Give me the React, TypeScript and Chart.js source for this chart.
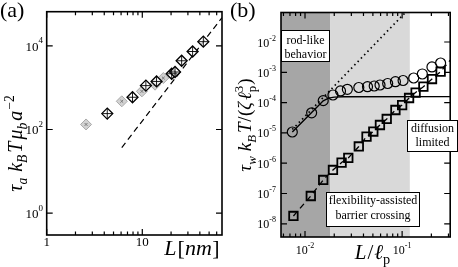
import React, { useEffect, useRef } from 'react';
import { Chart, registerables } from 'chart.js';

Chart.register(...registerables);

const SERIF = "'Liberation Serif', 'DejaVu Serif', serif";

// ---------- Panel (a) data ----------
const aBlackL = [4.3, 7.9, 10.9, 14.1, 20.3, 22.0, 25.8, 33.6, 43.5];
const aBlackTau = [240, 590, 1120, 1410, 2150, 2370, 4400, 7330, 12600];
const aGreyL = [2.58, 6.1, 9.9, 13.6, 16.6];
const aGreyTau = [132, 472, 816, 1180, 1700];
const aScalingL = [6.1, 68];
const aScalingTau = [37, 47000];
const aXMajor = [1, 10];
const aXMinor = [2, 3, 4, 5, 6, 7, 8, 9, 20, 30, 40, 50, 60];
const aXLabels = ['1', '10'];
const aYMajor = [1, 100, 10000];
const aYExponents = ['0', '2', '4'];

// ---------- Panel (b) data ----------
const bCircleL = [0.0074, 0.0117, 0.0154, 0.0194, 0.0232, 0.0273, 0.0358, 0.044, 0.0516, 0.0592, 0.071, 0.0853, 0.1023, 0.1315, 0.1615, 0.2028, 0.249];
const bCircleTau = [1.07e-5, 4.6e-5, 1.16e-4, 1.78e-4, 2.42e-4, 2.75e-4, 3.15e-4, 3.35e-4, 3.53e-4, 3.81e-4, 4.27e-4, 4.9e-4, 5.36e-4, 6.48e-4, 8.8e-4, 1.5e-3, 2.03e-3];
const bSquareL = [0.0076, 0.01147, 0.0154, 0.0194, 0.0238, 0.0279, 0.0358, 0.043, 0.0505, 0.0591, 0.0694, 0.0853, 0.1, 0.1179, 0.1376, 0.1655, 0.2031, 0.2492];
const bSquareTau = [1.81e-8, 8.26e-8, 2.79e-7, 5.97e-7, 1.05e-6, 1.49e-6, 3.56e-6, 7.5e-6, 1.11e-5, 1.82e-5, 2.88e-5, 5.7e-5, 8.3e-5, 1.42e-4, 2.15e-4, 3.35e-4, 6.0e-4, 1.05e-3];
const bFlexLineL = [0.0076, 0.01147, 0.0154, 0.0194, 0.0238, 0.0279, 0.0358, 0.043, 0.0505, 0.0591, 0.0694, 0.0853, 0.1, 0.1179, 0.1376, 0.1655, 0.2031, 0.2492, 0.3126];
const bFlexLineTau = [1.81e-8, 8.26e-8, 2.79e-7, 5.97e-7, 1.05e-6, 1.49e-6, 3.56e-6, 7.5e-6, 1.11e-5, 1.82e-5, 2.88e-5, 5.7e-5, 8.3e-5, 1.42e-4, 2.15e-4, 3.35e-4, 6.0e-4, 1.05e-3, 2.5e-3];
const bRodCurveL = [0.0074, 0.0117, 0.0154, 0.0175, 0.02, 0.025, 0.32];
const bRodCurveTau = [1.07e-5, 4.7e-5, 1.15e-4, 1.4e-4, 1.52e-4, 1.56e-4, 1.57e-4];
const bRodLineL = [0.0074, 0.11];
const bRodLineTau = [1.3e-5, 0.1];
const bRodLimit = 0.0181;
const bDiffusionLimit = 0.12;
const bXMajor = [0.01, 0.1];
const bXMinor = [0.006, 0.007, 0.008, 0.009, 0.02, 0.03, 0.04, 0.05, 0.06, 0.07, 0.08, 0.09, 0.2, 0.3];
const bYMajor = [1e-8, 1e-7, 1e-6, 1e-5, 1e-4, 1e-3, 1e-2];
const bXExponents = ['-2', '-1'];
const bYExponents = ['-8', '-7', '-6', '-5', '-4', '-3', '-2'];

type Seg = { t: string; it?: boolean; pos?: 'sub' | 'sup'; gap?: number; stack?: boolean };

function drawRich(ctx: CanvasRenderingContext2D, segs: Seg[], x: number, y: number, size: number, align: 'left' | 'center' | 'right') {
  const fontFor = (s: Seg) => `${s.it ? 'italic ' : ''}${s.pos ? size * 0.68 : size}px ${SERIF}`;
  const widths = segs.map((s) => { ctx.font = fontFor(s); return ctx.measureText(s.t).width; });
  let total = 0;
  let prevStart = 0;
  let prevW = 0;
  segs.forEach((s, i) => {
    if (s.stack) {
      const w = Math.max(prevW, widths[i]);
      total = prevStart + w;
      prevW = w;
    } else {
      prevStart = total + (s.gap || 0);
      total = prevStart + widths[i];
      prevW = widths[i];
    }
  });
  const start = align === 'left' ? x : align === 'center' ? x - total / 2 : x - total;
  let cx = start;
  let segStart = start;
  segs.forEach((s, i) => {
    let drawX;
    if (s.stack) {
      drawX = segStart;
      cx = Math.max(cx, segStart + widths[i]);
    } else {
      cx += s.gap || 0;
      drawX = cx;
      segStart = cx;
      cx += widths[i];
    }
    ctx.font = fontFor(s);
    const dy = s.pos === 'sub' ? size * 0.24 : s.pos === 'sup' ? -size * 0.42 : 0;
    ctx.fillText(s.t, drawX, y + dy);
  });
}

function drawPow(ctx: CanvasRenderingContext2D, exp: string, x: number, yBase: number, base: number, sup: number, supRaise: number, align: 'center' | 'right') {
  ctx.font = `${base}px ${SERIF}`;
  const w1 = ctx.measureText('10').width;
  ctx.font = `${sup}px ${SERIF}`;
  const w2 = ctx.measureText(exp).width;
  const total = w1 + w2;
  const left = align === 'center' ? x - total / 2 : x - total;
  ctx.font = `${base}px ${SERIF}`;
  ctx.fillText('10', left, yBase);
  ctx.font = `${sup}px ${SERIF}`;
  ctx.fillText(exp, left + w1, yBase - supRaise);
}

function drawFrame(chart: any, xMajor: number[], xMinor: number[], yMajor: number[], yMinor: number[]) {
  const { ctx, chartArea: a, scales } = chart;
  const xs = scales.x;
  const ys = scales.y;
  ctx.save();
  ctx.strokeStyle = '#000';
  ctx.lineWidth = 1.2;
  ctx.beginPath();
  const vt = (v: number, len: number) => {
    const px = xs.getPixelForValue(v);
    ctx.moveTo(px, a.bottom); ctx.lineTo(px, a.bottom - len);
    ctx.moveTo(px, a.top); ctx.lineTo(px, a.top + len);
  };
  const ht = (v: number, len: number) => {
    const py = ys.getPixelForValue(v);
    ctx.moveTo(a.left, py); ctx.lineTo(a.left + len, py);
    ctx.moveTo(a.right, py); ctx.lineTo(a.right - len, py);
  };
  xMajor.forEach((v) => vt(v, 6));
  xMinor.forEach((v) => vt(v, 3.5));
  yMajor.forEach((v) => ht(v, 6));
  yMinor.forEach((v) => ht(v, 3.5));
  ctx.stroke();
  ctx.lineWidth = 1.6;
  ctx.strokeRect(a.left, a.top, a.right - a.left, a.bottom - a.top);
  ctx.restore();
}

function pts(xs: number[], ys: number[]) {
  return xs.map((x, i) => ({ x, y: ys[i] }));
}

function logScale(min: number, max: number, fit: (s: any) => void) {
  return {
    type: 'logarithmic' as const,
    min,
    max,
    display: true,
    ticks: { display: false },
    grid: { display: false, drawTicks: false },
    border: { display: false },
    afterFit: fit,
  };
}

const panelAPlugin = {
  id: 'panelA',
  afterDraw(chart: any) {
    const { ctx, scales } = chart;
    drawFrame(chart, aXMajor, aXMinor, aYMajor, []);
    ctx.save();
    ctx.fillStyle = '#000';
    ctx.textBaseline = 'alphabetic';
    ctx.font = `13px ${SERIF}`;
    ctx.textAlign = 'center';
    aXMajor.forEach((v, i) => ctx.fillText(aXLabels[i], scales.x.getPixelForValue(v), 246));
    ctx.textAlign = 'left';
    aYMajor.forEach((v, i) => {
      const py = scales.y.getPixelForValue(v);
      drawPow(ctx, aYExponents[i], 43, py + 5, 13, 9, 7.5, 'right');
    });
    ctx.font = `22px ${SERIF}`;
    ctx.fillText('(a)', 0, 17);
    drawRich(ctx, [
      { t: 'L', it: true },
      { t: '[', gap: 1 },
      { t: 'nm', it: true },
      { t: ']', gap: 0.5 },
    ], 192, 255, 22, 'center');
    ctx.translate(22, 143.5);
    ctx.rotate(-Math.PI / 2);
    drawRich(ctx, [
      { t: 'τ', it: true },
      { t: 'a', it: true, pos: 'sub' },
      { t: 'k', it: true, gap: 6 },
      { t: 'B', it: true, pos: 'sub' },
      { t: 'T', it: true, gap: 2 },
      { t: 'μ', it: true, gap: 2 },
      { t: 'b', it: true, pos: 'sub' },
      { t: 'a', it: true, gap: 2 },
      { t: '−2', pos: 'sup', gap: 1 },
    ], 0, 0, 20, 'center');
    ctx.restore();
  },
};

function drawBox(ctx: CanvasRenderingContext2D, x0: number, y0: number, x1: number, y1: number, lines: string[], baselines: number[]) {
  ctx.save();
  ctx.fillStyle = '#fff';
  ctx.fillRect(x0, y0, x1 - x0, y1 - y0);
  ctx.strokeStyle = '#000';
  ctx.lineWidth = 1;
  ctx.strokeRect(x0 + 0.5, y0 + 0.5, x1 - x0 - 1, y1 - y0 - 1);
  ctx.fillStyle = '#000';
  ctx.font = `12px ${SERIF}`;
  ctx.textAlign = 'center';
  ctx.textBaseline = 'alphabetic';
  lines.forEach((l, i) => ctx.fillText(l, (x0 + x1) / 2, baselines[i]));
  ctx.restore();
}

const panelBPlugin = {
  id: 'panelB',
  beforeDatasetsDraw(chart: any) {
    const { ctx, chartArea: a, scales } = chart;
    const xr = scales.x.getPixelForValue(bRodLimit);
    const xd = scales.x.getPixelForValue(bDiffusionLimit);
    ctx.save();
    ctx.fillStyle = '#a6a6a6';
    ctx.fillRect(a.left, a.top, xr - a.left, a.bottom - a.top);
    ctx.fillStyle = '#d9d9d9';
    ctx.fillRect(xr, a.top, xd - xr, a.bottom - a.top);
    ctx.restore();
  },
  afterDraw(chart: any) {
    const { ctx, scales } = chart;
    drawFrame(chart, bXMajor, bXMinor, bYMajor, []);
    drawBox(ctx, 52, 30, 101, 62, ['rod-like', 'behavior'], [44, 58]);
    drawBox(ctx, 178, 120, 229, 152, ['diffusion', 'limited'], [132, 146]);
    drawBox(ctx, 97, 192, 191, 227, ['flexibility-assisted', 'barrier crossing'], [204, 219]);
    ctx.save();
    ctx.fillStyle = '#000';
    ctx.textBaseline = 'alphabetic';
    ctx.textAlign = 'left';
    bXMajor.forEach((v, i) => {
      drawPow(ctx, bXExponents[i], scales.x.getPixelForValue(v), 253.5, 12, 8, 6, 'center');
    });
    bYMajor.forEach((v, i) => {
      drawPow(ctx, bYExponents[i], 47, scales.y.getPixelForValue(v) + 4.5, 12, 8, 6, 'right');
    });
    ctx.font = `22px ${SERIF}`;
    ctx.fillText('(b)', 1, 17);
    drawRich(ctx, [
      { t: 'L', it: true },
      { t: '/', gap: 1 },
      { t: 'ℓ', it: true, gap: 1 },
      { t: 'p', pos: 'sub' },
    ], 143.5, 259, 21, 'center');
    ctx.translate(22, 125);
    ctx.rotate(-Math.PI / 2);
    drawRich(ctx, [
      { t: 'τ', it: true },
      { t: 'w', it: true, pos: 'sub' },
      { t: 'k', it: true, gap: 5 },
      { t: 'B', it: true, pos: 'sub' },
      { t: 'T', it: true, gap: 2 },
      { t: '/', gap: 0.5 },
      { t: '(', gap: 0.5 },
      { t: 'ζ', it: true },
      { t: 'ℓ', it: true, gap: 2 },
      { t: 'p', pos: 'sub' },
      { t: '3', pos: 'sup', stack: true },
      { t: ')', gap: 1 },
    ], 0, 0, 19, 'center');
    ctx.restore();
  },
};

function configA(): any {
  return {
    type: 'scatter',
    data: {
      datasets: [
        {
          data: pts(aScalingL, aScalingTau), showLine: true, borderColor: '#000', borderWidth: 1.2,
          borderDash: [6, 4], pointRadius: 0, order: 5,
        },
        {
          data: pts(aGreyL, aGreyTau), pointStyle: 'rectRot', pointRadius: 5.5,
          backgroundColor: '#d2d2d2', borderColor: '#a9a9a9', borderWidth: 1, order: 4,
        },
        {
          data: pts(aGreyL, aGreyTau), pointStyle: 'crossRot', pointRadius: 2,
          backgroundColor: 'transparent', borderColor: '#7a7a7a', borderWidth: 1, order: 3,
        },
        {
          data: pts(aBlackL, aBlackTau), pointStyle: 'rectRot', pointRadius: 5.5,
          backgroundColor: 'rgba(255,255,255,0.7)', borderColor: '#000', borderWidth: 1.3, order: 2,
        },
        {
          data: pts(aBlackL, aBlackTau), pointStyle: 'cross', pointRadius: 5,
          backgroundColor: 'transparent', borderColor: '#000', borderWidth: 0.9, order: 1,
        },
      ],
    },
    options: {
      responsive: false,
      animation: false,
      devicePixelRatio: 1,
      layout: { padding: { left: 0, right: 7, top: 11.7, bottom: 0 } },
      plugins: { legend: { display: false }, tooltip: { enabled: false } },
      events: [],
      scales: {
        x: logScale(1, 68.2, (s) => { s.height = 32; }),
        y: logScale(0.316, 65600, (s) => { s.width = 46.7; }),
      },
    },
    plugins: [panelAPlugin],
  };
}

function configB(): any {
  return {
    type: 'scatter',
    data: {
      datasets: [
        {
          data: pts(bRodLineL, bRodLineTau), showLine: true, borderColor: '#000', borderWidth: 1.7,
          borderDash: [1.5, 3.2], pointRadius: 0, order: 6,
        },
        {
          data: pts(bRodCurveL, bRodCurveTau), showLine: true, borderColor: '#000', borderWidth: 1.4,
          pointRadius: 0, order: 5,
        },
        {
          data: pts(bFlexLineL, bFlexLineTau), showLine: true, borderColor: '#000', borderWidth: 1.3,
          borderDash: [6, 4], pointRadius: 0, order: 4,
        },
        {
          data: pts(bCircleL, bCircleTau), pointStyle: 'circle', pointRadius: 5,
          backgroundColor: 'transparent', borderColor: '#000', borderWidth: 1.2, order: 2,
        },
        {
          data: pts(bSquareL, bSquareTau), pointStyle: 'rect', pointRadius: 6,
          backgroundColor: 'transparent', borderColor: '#000', borderWidth: 1.8, order: 1,
        },
      ],
    },
    options: {
      responsive: false,
      animation: false,
      devicePixelRatio: 1,
      layout: { padding: { left: 0, right: 1, top: 12.5, bottom: 0 } },
      plugins: { legend: { display: false }, tooltip: { enabled: false } },
      events: [],
      scales: {
        x: logScale(0.00566, 0.3126, (s) => { s.height = 30; }),
        y: logScale(3.66e-9, 0.0942, (s) => { s.width = 52; }),
      },
    },
    plugins: [panelBPlugin],
  };
}

export default function App() {
  const refA = useRef<HTMLCanvasElement>(null);
  const refB = useRef<HTMLCanvasElement>(null);
  useEffect(() => {
    const a = new Chart(refA.current as HTMLCanvasElement, configA());
    const b = new Chart(refB.current as HTMLCanvasElement, configB());
    return () => { a.destroy(); b.destroy(); };
  }, []);
  return (
    <div style={{ position: 'fixed', left: 0, top: 0, width: 458, height: 267, background: '#fff' }}>
      <canvas ref={refA} width={229} height={267} style={{ position: 'absolute', left: 0, top: 0, width: 229, height: 267 }} />
      <canvas ref={refB} width={229} height={267} style={{ position: 'absolute', left: 229, top: 0, width: 229, height: 267 }} />
    </div>
  );
}
